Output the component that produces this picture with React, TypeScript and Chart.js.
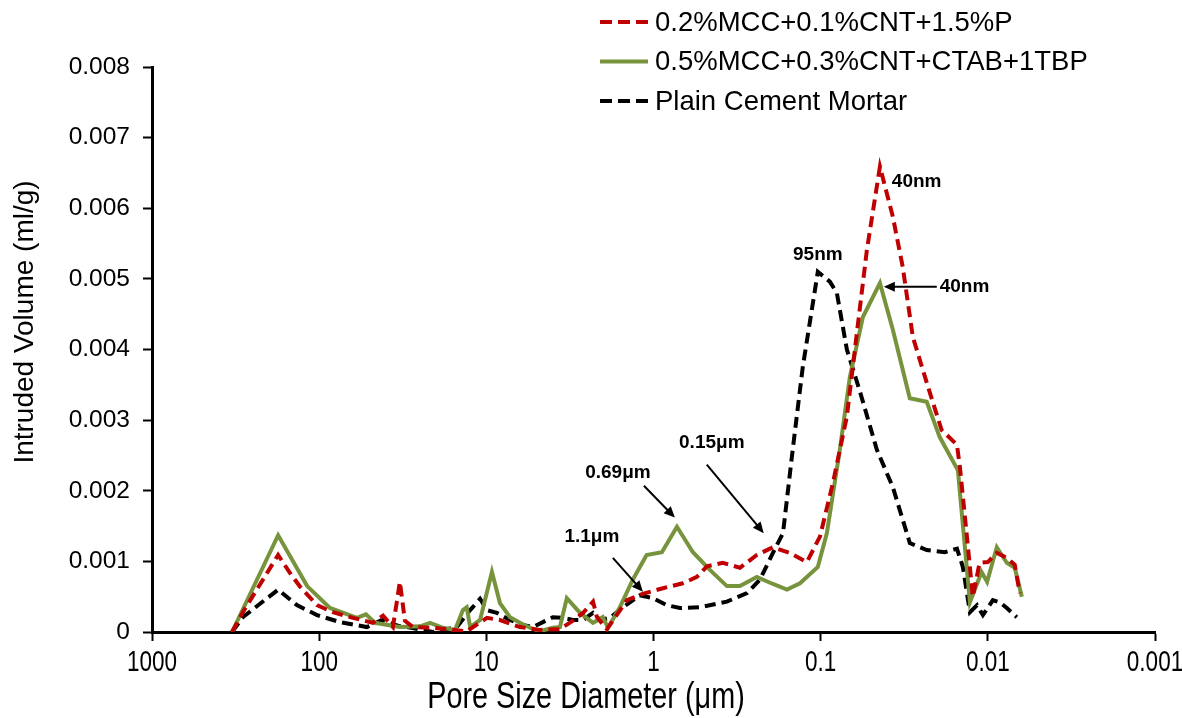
import React, { useEffect, useRef } from "react";
import { Chart, registerables } from "chart.js";

Chart.register(...registerables);

// ---- Data (pore diameter in μm, intruded volume in ml/g) ----
const seriesLabels = [
  "0.2%MCC+0.1%CNT+1.5%P",
  "0.5%MCC+0.3%CNT+CTAB+1TBP",
  "Plain Cement Mortar",
];

const redX = [332, 286, 176, 150, 130, 103, 82.7, 62.8, 47.7, 41.5, 36.2, 32.9, 30.7, 27.5, 20.9, 13.1, 9.92, 8.29, 6.3, 4.78, 3.63, 3.03, 2.64, 2.3, 2.18, 1.9, 1.44, 1.16, 0.879, 0.667, 0.55, 0.479, 0.385, 0.304, 0.241, 0.193, 0.153, 0.121, 0.101, 0.0845, 0.0697, 0.0607, 0.0529, 0.0442, 0.037, 0.0323, 0.0281, 0.0232, 0.0189, 0.0153, 0.0147, 0.0134, 0.0123, 0.0112, 0.01, 0.00884, 0.0077, 0.0069, 0.00644];
const redY = [0, 0.00028, 0.00109, 0.00084, 0.00064, 0.00038, 0.00028, 0.0002, 0.00013, 0.00023, 0.00007, 0.00071, 0.00016, 0.00007, 0.00006, 0.00001, 0.0002, 0.00017, 0.00007, 0.00003, 0.00004, 0.00016, 0.00027, 0.00043, 0.00021, 0.00004, 0.00045, 0.00054, 0.00062, 0.00069, 0.00078, 0.00093, 0.00098, 0.00091, 0.00109, 0.0012, 0.00112, 0.00099, 0.00135, 0.00211, 0.00305, 0.00424, 0.00541, 0.00659, 0.00588, 0.00517, 0.00418, 0.00353, 0.00286, 0.00265, 0.00234, 0.0014, 0.0005, 0.00098, 0.00099, 0.00112, 0.00105, 0.00095, 0.00055];

const greenX = [332, 176, 118, 86.2, 59.4, 52.5, 46.4, 32.9, 24.9, 21.7, 18.2, 15.4, 13.8, 13.1, 12.5, 10.9, 9.26, 8.29, 7.22, 6.3, 5.48, 4.78, 4.0, 3.63, 3.3, 2.75, 2.3, 2.01, 1.87, 1.59, 1.33, 1.1, 0.891, 0.724, 0.581, 0.46, 0.364, 0.304, 0.241, 0.193, 0.159, 0.133, 0.104, 0.0918, 0.0768, 0.0669, 0.0559, 0.0442, 0.037, 0.0293, 0.0232, 0.0194, 0.0151, 0.0128, 0.0109, 0.0101, 0.00884, 0.0077, 0.0069, 0.00626];
const greenY = [0, 0.00137, 0.00065, 0.00034, 0.0002, 0.00025, 0.00013, 0.00007, 0.00008, 0.00013, 0.00006, 0.00003, 0.00031, 0.00035, 0.00007, 0.00017, 0.00085, 0.00041, 0.00021, 0.00013, 0.00006, 0.00001, 0.00006, 0.00007, 0.00048, 0.00027, 0.00013, 0.00021, 0.00006, 0.00035, 0.00074, 0.00109, 0.00113, 0.00149, 0.00113, 0.00088, 0.00065, 0.00065, 0.00078, 0.00068, 0.0006, 0.00069, 0.00092, 0.0014, 0.00258, 0.00361, 0.00446, 0.00494, 0.00428, 0.00331, 0.00326, 0.00276, 0.00229, 0.00042, 0.00085, 0.00071, 0.0012, 0.00098, 0.00091, 0.0005];

const blackX = [332, 286, 176, 136, 103, 75.1, 51.8, 42.1, 32.9, 29.8, 20.9, 15.0, 12.5, 10.9, 9.92, 8.64, 7.22, 6.04, 5.26, 4.59, 4.0, 3.48, 3.03, 2.64, 2.3, 2.09, 1.82, 1.52, 1.21, 1.01, 0.832, 0.695, 0.528, 0.364, 0.276, 0.231, 0.193, 0.168, 0.147, 0.128, 0.104, 0.0881, 0.08, 0.0697, 0.0583, 0.0461, 0.037, 0.0293, 0.0232, 0.0181, 0.0153, 0.0141, 0.0128, 0.0116, 0.0107, 0.00933, 0.00848, 0.0077, 0.00671];
const blackY = [0, 0.00021, 0.0006, 0.00038, 0.00024, 0.00014, 0.00007, 0.00017, 0.00008, 0.00007, 0, 0.00007, 0.00031, 0.00047, 0.00031, 0.00027, 0.00017, 0.0001, 0.00007, 0.00014, 0.00021, 0.0002, 0.00017, 0.00017, 0.00027, 0.00017, 0.0002, 0.00035, 0.00052, 0.00048, 0.00038, 0.00034, 0.00035, 0.00043, 0.00055, 0.00074, 0.00112, 0.0014, 0.00258, 0.00375, 0.0051, 0.00496, 0.0048, 0.004, 0.00341, 0.00258, 0.00205, 0.00126, 0.00116, 0.00113, 0.00118, 0.00092, 0.00028, 0.00038, 0.00024, 0.00045, 0.00042, 0.00034, 0.00021];

const xTickValues = [1000, 100, 10, 1, 0.1, 0.01, 0.001];
const xTickLabels = ["1000", "100", "10", "1", "0.1", "0.01", "0.001"];
const yTickLabels = ["0", "0.001", "0.002", "0.003", "0.004", "0.005", "0.006", "0.007", "0.008"];

const xTitle = "Pore Size Diameter (μm)";
const yTitle = "Intruded Volume (ml/g)";

// Annotation texts and their anchor points (data coordinates)
const noteTexts = ["40nm", "40nm", "95nm", "0.15μm", "0.69μm", "1.1μm"];
const noteAt = [
  { x: 0.0375, y: 0.00637, align: "left" },
  { x: 0.0194, y: 0.00489, align: "left" },
  { x: 0.104, y: 0.00534, align: "center" },
  { x: 0.448, y: 0.00268, align: "center" },
  { x: 1.633, y: 0.00225, align: "center" },
  { x: 2.336, y: 0.00135, align: "center" },
];
const arrows = [
  null,
  { x1: 0.0202, y1: 0.00489, x2: 0.0419, y2: 0.00489 },
  null,
  { x1: 0.48, y1: 0.00237, x2: 0.219, y2: 0.0014 },
  { x1: 1.141, y1: 0.00207, x2: 0.745, y2: 0.00162 },
  { x1: 1.75, y1: 0.00105, x2: 1.157, y2: 0.00057 },
];

const toPts = (xs: number[], ys: number[]) => xs.map((x, i) => ({ x, y: ys[i] }));

const SANS = '"Liberation Sans", Arial, sans-serif';

// draw horizontally condensed text
function condensed(ctx: CanvasRenderingContext2D, text: string, x: number, y: number, font: string, sx: number) {
  ctx.save();
  ctx.translate(x, y);
  ctx.scale(sx, 1);
  ctx.font = font;
  ctx.textAlign = "center";
  ctx.textBaseline = "middle";
  ctx.fillText(text, 0, 0);
  ctx.restore();
}

const overlayPlugin = {
  id: "overlay",
  afterDraw(chart: any) {
    const ctx = chart.ctx as CanvasRenderingContext2D;
    const xs = chart.scales.x;
    const ys = chart.scales.y;
    ctx.save();

    // Legend
    chart.data.datasets.forEach((ds: any, i: number) => {
      const y = 22 + i * 39.5;
      ctx.strokeStyle = ds.borderColor;
      ctx.lineWidth = 4;
      ctx.setLineDash(ds.borderDash ? [12, 6] : []);
      ctx.beginPath();
      ctx.moveTo(600, y);
      ctx.lineTo(648, y);
      ctx.stroke();
      ctx.setLineDash([]);
      ctx.fillStyle = "#000";
      ctx.font = `27.5px ${SANS}`;
      ctx.textAlign = "left";
      ctx.textBaseline = "middle";
      ctx.fillText(ds.label, 655, y + 1);
    });

    // x tick labels (condensed face)
    ctx.fillStyle = "#000";
    xTickValues.forEach((v, i) => {
      condensed(ctx, xTickLabels[i], xs.getPixelForValue(v), 663, `30px ${SANS}`, 0.75);
    });

    // Annotations
    ctx.font = `bold 19px ${SANS}`;
    ctx.fillStyle = "#000";
    ctx.textBaseline = "middle";
    noteTexts.forEach((t, i) => {
      const a = noteAt[i];
      ctx.textAlign = a.align as CanvasTextAlign;
      ctx.fillText(t, xs.getPixelForValue(a.x), ys.getPixelForValue(a.y));
      const ar = arrows[i];
      if (ar) {
        const px1 = xs.getPixelForValue(ar.x1), py1 = ys.getPixelForValue(ar.y1);
        const px2 = xs.getPixelForValue(ar.x2), py2 = ys.getPixelForValue(ar.y2);
        const ang = Math.atan2(py2 - py1, px2 - px1);
        const hl = 11, hw = 5;
        ctx.strokeStyle = "#000";
        ctx.lineWidth = 2;
        ctx.beginPath();
        ctx.moveTo(px1, py1);
        ctx.lineTo(px2 - Math.cos(ang) * hl * 0.8, py2 - Math.sin(ang) * hl * 0.8);
        ctx.stroke();
        ctx.beginPath();
        ctx.moveTo(px2, py2);
        ctx.lineTo(px2 - Math.cos(ang) * hl - Math.sin(ang) * hw, py2 - Math.sin(ang) * hl + Math.cos(ang) * hw);
        ctx.lineTo(px2 - Math.cos(ang) * hl + Math.sin(ang) * hw, py2 - Math.sin(ang) * hl - Math.cos(ang) * hw);
        ctx.closePath();
        ctx.fill();
      }
    });

    // Axis titles
    ctx.fillStyle = "#000";
    condensed(ctx, xTitle, 586, 698, `36px ${SANS}`, 0.8);
    ctx.translate(25, 322);
    ctx.rotate(-Math.PI / 2);
    ctx.font = `28px ${SANS}`;
    ctx.textAlign = "center";
    ctx.textBaseline = "middle";
    ctx.fillText(yTitle, 0, 0);
    ctx.restore();
  },
};

export default function App() {
  const ref = useRef<HTMLCanvasElement | null>(null);

  useEffect(() => {
    if (!ref.current) return;
    const lineBase = { pointRadius: 0, tension: 0, fill: false, borderJoinStyle: "miter" as const };
    const chart = new Chart(ref.current, {
      type: "line",
      data: {
        datasets: [
          { ...lineBase, label: seriesLabels[0], data: toPts(redX, redY), borderColor: "#C00000", borderWidth: 4, borderDash: [11, 6] },
          { ...lineBase, label: seriesLabels[1], data: toPts(greenX, greenY), borderColor: "#77933C", borderWidth: 4 },
          { ...lineBase, label: seriesLabels[2], data: toPts(blackX, blackY), borderColor: "#000000", borderWidth: 4, borderDash: [11, 6] },
        ],
      },
      options: {
        animation: false,
        responsive: false,
        devicePixelRatio: 1,
        layout: { padding: { left: 0, top: 67, right: 27, bottom: 0 } },
        plugins: { legend: { display: false }, tooltip: { enabled: false }, title: { display: false } },
        scales: {
          x: {
            type: "logarithmic",
            reverse: true,
            min: 0.001,
            max: 1000,
            afterBuildTicks: (scale: any) => {
              scale.ticks = xTickValues.map((v) => ({ value: v }));
            },
            afterFit: (scale: any) => {
              scale.height = 86;
            },
            border: { display: true, color: "#000", width: 3 },
            grid: { display: true, drawOnChartArea: false, drawTicks: true, tickLength: 9, tickWidth: 2, tickColor: "#000" },
            ticks: { display: false, autoSkip: false, maxRotation: 0 },
          },
          y: {
            type: "linear",
            min: 0,
            max: 0.008,
            afterFit: (scale: any) => {
              scale.width = 152;
            },
            border: { display: true, color: "#000", width: 3 },
            grid: { display: true, drawOnChartArea: false, drawTicks: true, tickLength: 9, tickWidth: 2, tickColor: "#000" },
            ticks: {
              stepSize: 0.001,
              padding: 13,
              color: "#000",
              font: { family: SANS, size: 24.5 },
              callback: (_v: any, i: number) => yTickLabels[i],
            },
          },
        },
      },
      plugins: [overlayPlugin],
    });
    return () => chart.destroy();
  }, []);

  return (
    <div style={{ position: "fixed", left: 0, top: 0, width: 1182, height: 718, background: "#fff" }}>
      <canvas ref={ref} width={1182} height={718} style={{ width: 1182, height: 718, display: "block" }} />
    </div>
  );
}
